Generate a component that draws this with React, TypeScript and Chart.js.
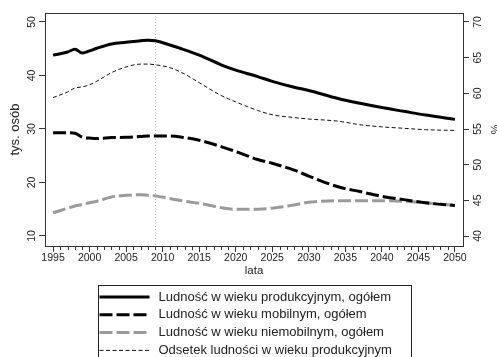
import React, { useEffect, useRef } from 'react';
import { Chart, registerables } from 'chart.js';

Chart.register(...registerables);

// ---- data ----
const years = [1995, 1997, 1998, 1999, 2000, 2001, 2003, 2005, 2007, 2008, 2009, 2011, 2013, 2015, 2018, 2020, 2023, 2025, 2028, 2030, 2034, 2037, 2040, 2043, 2046, 2050];
const produkcyjny = [43.8, 44.4, 44.9, 44.2, 44.6, 45.1, 45.9, 46.2, 46.5, 46.6, 46.5, 45.7, 44.8, 43.8, 42.0, 41.0, 39.8, 38.9, 37.8, 37.2, 35.7, 34.8, 34.0, 33.3, 32.6, 31.8];
const mobilny = [29.3, 29.3, 29.2, 28.45, 28.3, 28.2, 28.4, 28.45, 28.6, 28.7, 28.7, 28.7, 28.4, 27.9, 26.7, 25.8, 24.3, 23.6, 22.3, 21.2, 19.2, 18.3, 17.4, 16.8, 16.2, 15.7];
const niemobilny = [14.35, 15.2, 15.6, 15.9, 16.2, 16.5, 17.3, 17.6, 17.7, 17.6, 17.5, 17.0, 16.5, 16.1, 15.3, 15.0, 15.0, 15.2, 15.8, 16.3, 16.6, 16.6, 16.6, 16.5, 16.2, 15.7];
const odsetek = [59.4, 60.2, 60.75, 60.9, 61.2, 61.7, 62.9, 63.7, 64.1, 64.1, 64.0, 63.6, 62.7, 61.5, 59.7, 58.8, 57.6, 57.0, 56.6, 56.4, 56.1, 55.6, 55.3, 55.1, 54.9, 54.8];

const xTicks = [1995, 2000, 2005, 2010, 2015, 2020, 2025, 2030, 2035, 2040, 2045, 2050];
const leftTicks = [10, 20, 30, 40, 50];
const rightTicks = [40, 45, 50, 55, 60, 65, 70];
const markerYear = 2009;

const seriesLabels = [
  'Ludność w wieku produkcyjnym, ogółem',
  'Ludność w wieku mobilnym, ogółem',
  'Ludność w wieku niemobilnym, ogółem',
  'Odsetek ludności w wieku produkcyjnym',
];
const xTitle = 'lata';
const yTitle = 'tys. osób';
const y2Title = '%';

const X_MIN = 1993.9;
const X_MAX = 2051.1;
const Y_MIN = 8.13;
const Y_MAX = 51.68;
const Y2_MIN = 38.6;
const Y2_MAX = 71.26;

const FONT = "'Liberation Sans', Arial, sans-serif";
const TEXT = '#222';

const styles = [
  { color: '#000', width: 3, dash: [] as number[] },
  { color: '#000', width: 3, dash: [13, 4] },
  { color: '#9a9a9a', width: 3, dash: [13, 4] },
  { color: '#111', width: 1, dash: [4, 2.5] },
];

const decorPlugin = {
  id: 'decor',
  beforeDatasetsDraw(chart: any) {
    const { ctx, chartArea: ca, scales } = chart;
    const x = Math.round(scales.x.getPixelForValue(markerYear)) + 0.5;
    ctx.save();
    ctx.strokeStyle = '#b5b5b5';
    ctx.lineWidth = 1;
    ctx.setLineDash([1, 2]);
    ctx.beginPath();
    ctx.moveTo(x, ca.top);
    ctx.lineTo(x, ca.bottom);
    ctx.stroke();
    ctx.restore();
  },
  afterDraw(chart: any) {
    const { ctx, chartArea: ca, scales } = chart;
    ctx.save();
    // frame
    ctx.strokeStyle = '#333';
    ctx.lineWidth = 1;
    ctx.setLineDash([]);
    ctx.strokeRect(Math.round(ca.left) + 0.5, Math.round(ca.top) + 0.5, Math.round(ca.right - ca.left), Math.round(ca.bottom - ca.top));
    // minor x ticks (every year)
    ctx.beginPath();
    for (let yr = xTicks[0]; yr <= xTicks[xTicks.length - 1]; yr++) {
      if (xTicks.includes(yr)) continue;
      const px = Math.round(scales.x.getPixelForValue(yr)) + 0.5;
      ctx.moveTo(px, ca.bottom);
      ctx.lineTo(px, ca.bottom + 4);
    }
    ctx.stroke();

    // legend
    const cx = (ca.left + ca.right) / 2;
    const boxL = Math.round(cx - 156.5) + 0.5;
    const boxT = 285.5;
    const boxW = 313;
    ctx.strokeStyle = '#222';
    ctx.lineWidth = 1;
    ctx.strokeRect(boxL, boxT, boxW, 90);
    ctx.font = `13px ${FONT}`;
    ctx.fillStyle = TEXT;
    ctx.textBaseline = 'middle';
    ctx.textAlign = 'left';
    seriesLabels.forEach((lab, i) => {
      const y = boxT + 11.5 + i * 17.8;
      const st = styles[i];
      ctx.save();
      ctx.strokeStyle = st.color;
      ctx.lineWidth = st.width;
      ctx.setLineDash(st.dash);
      ctx.beginPath();
      ctx.moveTo(boxL + 1, y);
      ctx.lineTo(boxL + 51, y);
      ctx.stroke();
      ctx.restore();
      ctx.fillText(lab, boxL + 60, y);
    });
    ctx.restore();
  },
};

export default function App() {
  const canvasRef = useRef<HTMLCanvasElement | null>(null);

  useEffect(() => {
    if (!canvasRef.current) return;
    Chart.defaults.font.family = FONT;
    const mk = (vals: number[]) => years.map((x, i) => ({ x, y: vals[i] }));
    const seriesData = [produkcyjny, mobilny, niemobilny, odsetek];
    const chart = new Chart(canvasRef.current, {
      type: 'line',
      data: {
        datasets: seriesData.map((vals, i) => ({
          label: seriesLabels[i],
          data: mk(vals),
          yAxisID: i === 3 ? 'y2' : 'y',
          borderColor: styles[i].color,
          borderWidth: styles[i].width,
          borderDash: styles[i].dash,
          pointRadius: 0,
          fill: false,
          cubicInterpolationMode: 'monotone' as const,
          borderCapStyle: 'butt' as const,
        })),
      },
      options: {
        animation: false,
        responsive: true,
        maintainAspectRatio: false,
        layout: { padding: { top: 13, left: 0, right: 0, bottom: 79 } },
        plugins: { legend: { display: false }, tooltip: { enabled: false } },
        scales: {
          x: {
            type: 'linear',
            position: 'bottom',
            min: X_MIN,
            max: X_MAX,
            afterBuildTicks: (s: any) => { s.ticks = xTicks.map((v) => ({ value: v })); },
            afterFit: (s: any) => { s.height = 32; },
            ticks: {
              autoSkip: false,
              maxRotation: 0,
              minRotation: 0,
              padding: 0,
              color: TEXT,
              font: { size: 10.5, family: FONT },
              callback: (v: any) => String(v),
            },
            grid: { drawOnChartArea: false, drawTicks: true, tickLength: 6, color: '#333' },
            border: { display: false },
            title: { display: true, text: xTitle, color: TEXT, font: { size: 11.5, family: FONT }, padding: { top: 0, bottom: 0 } },
          },
          y: {
            type: 'linear',
            position: 'left',
            min: Y_MIN,
            max: Y_MAX,
            afterBuildTicks: (s: any) => { s.ticks = leftTicks.map((v) => ({ value: v })); },
            afterFit: (s: any) => { s.width = 45; },
            ticks: {
              minRotation: 90,
              maxRotation: 90,
              crossAlign: 'center',
              padding: 1,
              color: TEXT,
              font: { size: 10.5, family: FONT },
              callback: (v: any) => String(v),
            },
            grid: { drawOnChartArea: false, drawTicks: true, tickLength: 6, color: '#333' },
            border: { display: false },
            title: { display: true, text: yTitle, color: TEXT, font: { size: 13, family: FONT }, padding: { top: 8, bottom: 0 } },
          },
          y2: {
            type: 'linear',
            position: 'right',
            min: Y2_MIN,
            max: Y2_MAX,
            afterBuildTicks: (s: any) => { s.ticks = rightTicks.map((v) => ({ value: v })); },
            afterFit: (s: any) => { s.width = 34; },
            ticks: {
              minRotation: 90,
              maxRotation: 90,
              crossAlign: 'center',
              padding: 3,
              color: TEXT,
              font: { size: 10.5, family: FONT },
              callback: (v: any) => String(v),
            },
            grid: { drawOnChartArea: false, drawTicks: true, tickLength: 6, color: '#333' },
            border: { display: false },
            title: { display: true, text: y2Title, color: TEXT, font: { size: 11, family: FONT, lineHeight: 1 }, padding: { top: -3, bottom: 0 } },
          },
        },
      } as any,
      plugins: [decorPlugin],
    });
    return () => chart.destroy();
  }, []);

  return (
    <div style={{ position: 'absolute', left: 0, top: 0, width: 497, height: 357, background: '#fff' }}>
      <canvas ref={canvasRef} />
    </div>
  );
}
